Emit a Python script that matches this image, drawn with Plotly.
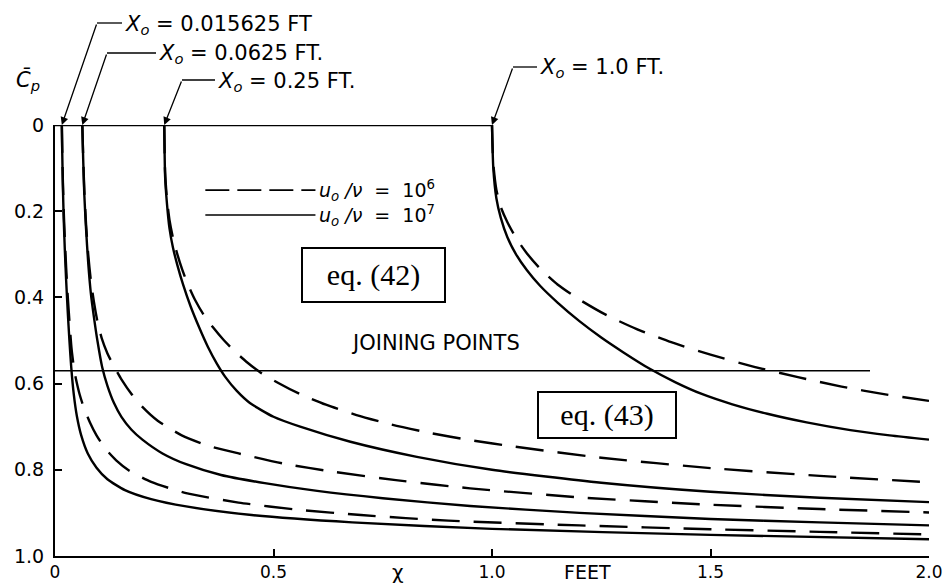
import plotly.graph_objects as go

# ---------------- data ----------------
x0_values = [0.015625, 0.0625, 0.25, 1.0]
x0_labels = ["0.015625 FT", "0.0625 FT.", "0.25 FT.", "1.0 FT."]

# u0/nu = 1e7 (solid)
s1_x = [0.015625, 0.0165, 0.018, 0.02, 0.0225, 0.0255, 0.029, 0.033, 0.037, 0.043, 0.05, 0.06, 0.075, 0.095, 0.12, 0.16, 0.22, 0.3, 0.45, 0.68, 1.0, 1.5, 2.0]
s1_cp = [0.0, 0.06, 0.14, 0.22, 0.29, 0.36, 0.43, 0.5, 0.56, 0.625, 0.675, 0.72, 0.762, 0.795, 0.822, 0.847, 0.868, 0.885, 0.905, 0.922, 0.937, 0.951, 0.961]
s2_x = [0.0625, 0.0645, 0.067, 0.071, 0.076, 0.082, 0.089, 0.097, 0.108, 0.12, 0.135, 0.152, 0.175, 0.2, 0.246, 0.3, 0.38, 0.48, 0.6, 0.75, 0.95, 1.2, 1.5, 1.75, 2.0]
s2_cp = [0.0, 0.08, 0.16, 0.24, 0.32, 0.39, 0.445, 0.5, 0.562, 0.605, 0.645, 0.677, 0.707, 0.73, 0.762, 0.787, 0.812, 0.831, 0.849, 0.866, 0.884, 0.9, 0.914, 0.922, 0.929]
s3_x = [0.25, 0.252, 0.256, 0.262, 0.27, 0.28, 0.293, 0.31, 0.33, 0.35, 0.37, 0.39, 0.416, 0.446, 0.5, 0.561, 0.676, 0.828, 1.0, 1.25, 1.5, 1.75, 2.0]
s3_cp = [0.0, 0.12, 0.18, 0.24, 0.285, 0.325, 0.37, 0.42, 0.47, 0.515, 0.553, 0.585, 0.617, 0.645, 0.677, 0.70, 0.735, 0.77, 0.80, 0.83, 0.851, 0.865, 0.875]
s4_x = [1.0, 1.003, 1.01, 1.02, 1.035, 1.055, 1.08, 1.11, 1.15, 1.2, 1.25, 1.3, 1.36, 1.42, 1.48, 1.55, 1.63, 1.72, 1.82, 1.91, 2.0]
s4_cp = [0.0, 0.10, 0.17, 0.215, 0.26, 0.30, 0.337, 0.373, 0.412, 0.455, 0.493, 0.527, 0.565, 0.597, 0.624, 0.648, 0.67, 0.69, 0.708, 0.72, 0.73]

# u0/nu = 1e6 (dashed)
d1_x = [0.015625, 0.0165, 0.018, 0.02, 0.0225, 0.0255, 0.029, 0.033, 0.038, 0.045, 0.055, 0.066, 0.08, 0.095, 0.116, 0.14, 0.17, 0.22, 0.3, 0.42, 0.56, 0.7, 0.9, 1.2, 1.5, 1.75, 2.0]
d1_cp = [0.0, 0.055, 0.13, 0.2, 0.265, 0.33, 0.395, 0.455, 0.52, 0.575, 0.62, 0.656, 0.69, 0.72, 0.752, 0.778, 0.802, 0.828, 0.854, 0.876, 0.893, 0.905, 0.918, 0.929, 0.938, 0.944, 0.95]
d2_x = [0.0625, 0.0645, 0.067, 0.071, 0.076, 0.082, 0.089, 0.097, 0.107, 0.12, 0.135, 0.152, 0.175, 0.2, 0.235, 0.29, 0.35, 0.42, 0.52, 0.64, 0.78, 0.95, 1.2, 1.5, 1.75, 2.0]
d2_cp = [0.0, 0.075, 0.15, 0.23, 0.30, 0.36, 0.41, 0.455, 0.495, 0.53, 0.56, 0.59, 0.624, 0.654, 0.686, 0.72, 0.744, 0.762, 0.785, 0.805, 0.824, 0.843, 0.864, 0.881, 0.891, 0.899]
d3_x = [0.25, 0.252, 0.256, 0.262, 0.27, 0.28, 0.292, 0.305, 0.32, 0.34, 0.362, 0.386, 0.41, 0.44, 0.47, 0.51, 0.56, 0.62, 0.69, 0.77, 0.86, 0.95, 1.05, 1.25, 1.5, 1.75, 2.0]
d3_cp = [0.0, 0.11, 0.17, 0.22, 0.262, 0.3, 0.338, 0.372, 0.405, 0.44, 0.47, 0.499, 0.524, 0.551, 0.574, 0.598, 0.624, 0.649, 0.673, 0.695, 0.715, 0.731, 0.746, 0.772, 0.796, 0.814, 0.829]
d4_x = [1.0, 1.003, 1.01, 1.02, 1.035, 1.055, 1.08, 1.11, 1.15, 1.2, 1.26, 1.33, 1.41, 1.5, 1.6, 1.7, 1.8, 1.9, 2.0]
d4_cp = [0.0, 0.09, 0.15, 0.19, 0.225, 0.262, 0.298, 0.333, 0.37, 0.405, 0.44, 0.473, 0.504, 0.533, 0.561, 0.585, 0.607, 0.625, 0.64]

flat_x = [0.0, 1.0]          # Cp = 0 ahead of each x0
flat_cp = [0.0, 0.0]

joining_x = [0.0, 1.865]
joining_cp = [0.57, 0.57]

x_ticks = [0, 0.5, 1.0, 1.5, 2.0]
x_ticktext = ["0", "0.5", "1.0", "1.5", "2.0"]
y_ticks = [0, 0.2, 0.4, 0.6, 0.8, 1.0]
y_ticktext = ["0", "0.2", "0.4", "0.6", "0.8", "1.0"]

# ---------------- layout geometry ----------------
W, H = 949, 586
ML, MR, MT, MB = 55, 20, 125, 30
PW, PH = W - ML - MR, H - MT - MB


def paper(px, py):
    return (px - ML) / PW, (H - MB - py) / PH


FONT = "DejaVu Sans"
fig = go.Figure()

solid = [(s1_x, s1_cp), (s2_x, s2_cp), (s3_x, s3_cp), (s4_x, s4_cp)]
dashed = [(d1_x, d1_cp), (d2_x, d2_cp), (d3_x, d3_cp), (d4_x, d4_cp)]

for xs, cps in dashed:
    fig.add_trace(go.Scatter(x=xs, y=cps, mode="lines", line_shape="spline",
                             line=dict(color="black", width=2.4, dash="28px,14px", smoothing=0.6),
                             showlegend=False, hoverinfo="skip"))
for xs, cps in solid:
    fig.add_trace(go.Scatter(x=xs, y=cps, mode="lines", line_shape="spline",
                             line=dict(color="black", width=2.4, smoothing=0.6),
                             showlegend=False, hoverinfo="skip"))
fig.add_trace(go.Scatter(x=flat_x, y=flat_cp, mode="lines",
                         line=dict(color="black", width=2.4), showlegend=False, hoverinfo="skip"))
fig.add_trace(go.Scatter(x=joining_x, y=joining_cp, mode="lines",
                         line=dict(color="black", width=1.5), showlegend=False, hoverinfo="skip"))

ann = []
shapes = []

# X0 labels with elbow leaders
label_geom = [  # (elbow px, elbow py, text start px, text py)
    (97, 23, 123, 25),
    (107, 53, 157, 54),
    (182, 80, 216, 82),
    (513, 67, 538, 68),
]
for x0, lab, (ex, ey, tx, ty) in zip(x0_values, x0_labels, label_geom):
    tip_px = ML + x0 / 2.0 * PW
    ann.append(dict(x=x0, y=0, xref="x", yref="y", text="", showarrow=True,
                    arrowhead=2, arrowsize=1.2, arrowwidth=1.3, arrowcolor="black",
                    ax=ex - tip_px, ay=ey - MT))
    p1 = paper(ex, ey)
    p2 = paper(tx - 1, ey)
    shapes.append(dict(type="line", xref="paper", yref="paper", x0=p1[0], y0=p1[1],
                       x1=p2[0], y1=p2[1], line=dict(color="black", width=1.3)))
    pt = paper(tx, ty)
    ann.append(dict(x=pt[0], y=pt[1], xref="paper", yref="paper", xanchor="left", yanchor="middle",
                    showarrow=False,
                    text="<i>X</i><sub><i>o</i></sub> = " + lab,
                    font=dict(family=FONT, size=21, color="black")))

# Cp axis title
pc = paper(28, 80)
ann.append(dict(x=pc[0], y=pc[1], xref="paper", yref="paper", xanchor="center", yanchor="middle",
                showarrow=False,
                text="<i>C̄</i><sub><i>p</i></sub>", font=dict(family=FONT, size=21, color="black")))

# x-axis titles
ann.append(dict(x=0.786, y=0, xref="x", yref="paper", xanchor="center", yanchor="middle",
                yshift=-16, showarrow=False,
                text="χ", font=dict(family=FONT, size=20, color="black")))
ann.append(dict(x=1.218, y=0, xref="x", yref="paper", xanchor="center", yanchor="middle",
                yshift=-16, showarrow=False,
                text="FEET", font=dict(family=FONT, size=19, color="black")))

# legend (drawn as in the original)
shapes.append(dict(type="line", xref="x", yref="y", x0=0.344, x1=0.596, y0=0.151, y1=0.151,
                   line=dict(color="black", width=1.8, dash="24px,8px")))
shapes.append(dict(type="line", xref="x", yref="y", x0=0.344, x1=0.596, y0=0.209, y1=0.209,
                   line=dict(color="black", width=1.5)))
ann.append(dict(x=0.6, y=0.151, xref="x", yref="y", xanchor="left", showarrow=False,
                text="<i>u</i><sub><i>o</i></sub> <i>/ν</i>  =  10<sup>6</sup>",
                font=dict(family=FONT, size=19, color="black")))
ann.append(dict(x=0.6, y=0.209, xref="x", yref="y", xanchor="left", showarrow=False,
                text="<i>u</i><sub><i>o</i></sub> <i>/ν</i>  =  10<sup>7</sup>",
                font=dict(family=FONT, size=19, color="black")))

ann.append(dict(x=0.87, y=0.506, xref="x", yref="y", showarrow=False,
                text="JOINING POINTS", font=dict(family=FONT, size=21, color="black")))

# equation boxes
ann.append(dict(x=0.729, y=0.349, xref="x", yref="y", showarrow=False, text="eq. (42)",
                font=dict(family="Liberation Serif", size=30, color="black"),
                bordercolor="black", borderwidth=2, borderpad=0, width=141, height=52,
                bgcolor="white"))
ann.append(dict(x=1.264, y=0.672, xref="x", yref="y", showarrow=False, text="eq. (43)",
                font=dict(family="Liberation Serif", size=30, color="black"),
                bordercolor="black", borderwidth=2, borderpad=0, width=136, height=44,
                bgcolor="white"))

fig.update_layout(
    width=W, height=H,
    margin=dict(l=ML, r=MR, t=MT, b=MB, autoexpand=False),
    paper_bgcolor="white", plot_bgcolor="white",
    annotations=ann, shapes=shapes,
    xaxis=dict(range=[0, 2.0], tickvals=x_ticks, ticktext=x_ticktext, automargin=False,
               showline=True, linecolor="black", linewidth=2, ticks="inside",
               ticklen=7, tickwidth=1.5, tickcolor="black", showgrid=False, zeroline=False,
               ticklabelstandoff=0,
               tickfont=dict(family=FONT, size=17, color="black")),
    yaxis=dict(range=[1.0, 0.0], tickvals=y_ticks, ticktext=y_ticktext, automargin=False,
               showline=True, linecolor="black", linewidth=2, ticks="inside",
               ticklen=7, tickwidth=1.5, tickcolor="black", showgrid=False, zeroline=False,
               ticklabelstandoff=5,
               tickfont=dict(family=FONT, size=19, color="black")),
)

fig.write_html("out.html")
